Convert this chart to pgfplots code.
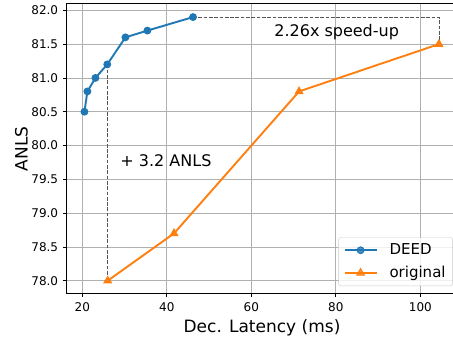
\documentclass[border=0pt]{standalone}
\usepackage{fontspec}
\setmainfont{DejaVu Sans}
\usepackage{pgfplots}
\pgfplotsset{compat=1.18}
\definecolor{mblue}{HTML}{1F77B4}
\definecolor{morange}{HTML}{FF7F0E}
\definecolor{gridgray}{HTML}{B0B0B0}
\definecolor{dashgray}{HTML}{555555}
\definecolor{leggray}{HTML}{CCCCCC}
\begin{document}
\begin{tikzpicture}
\begin{axis}[
  scale only axis, width=390pt, height=290pt,
  xmin=16.3, xmax=108.6, ymin=77.805, ymax=82.095,
  xtick={20,40,60,80,100},
  ytick={78,78.5,79,79.5,80,80.5,81,81.5,82},
  /pgf/number format/assume math mode=true,
  yticklabel style={/pgf/number format/fixed, /pgf/number format/fixed zerofill, /pgf/number format/precision=1},
  tick label style={font=\fontsize{12}{14}\selectfont},
  xticklabel style={anchor=base, inner sep=0pt, yshift=-14.6pt},
  yticklabel style={anchor=east, inner sep=0pt, xshift=-4.9pt},
  tick align=outside, tick pos=left,
  major tick length=3.5pt,
  every tick/.style={black, line width=0.8pt},
  axis line style={black, line width=0.8pt},
  grid=major,
  major grid style={gridgray, line width=0.8pt},
  xlabel={Dec. Latency (ms)},
  ylabel={ANLS},
  xlabel style={font=\fontsize{17}{20}\selectfont, at={(axis description cs:0.5008,-0.134)}, anchor=base, inner sep=0pt},
  ylabel style={font=\fontsize{17}{20}\selectfont, at={(axis description cs:-0.0992,0.5)}, anchor=south, inner sep=0pt},
  legend style={at={(0.99,0.027)}, anchor=south east, draw=leggray, rounded corners=2pt,
    fill=white, fill opacity=0.8, text opacity=1, font=\fontsize{15}{18}\selectfont,
    inner xsep=5pt, inner ysep=4.5pt, row sep=6pt, column sep=10pt},
  legend cell align=left,
  legend image code/.code={\draw[mark repeat=2,mark phase=2,sharp corners] plot coordinates {(0pt,0pt)(16pt,0pt)(32pt,0pt)};},
]
\addplot[dashgray, line width=0.9pt, dash pattern=on 3.7pt off 1.6pt, forget plot]
  coordinates {(46.2,81.9) (104.4,81.9) (104.4,81.5)};
\addplot[dashgray, line width=0.8pt, dash pattern=on 3.7pt off 1.6pt, forget plot]
  coordinates {(26.0,81.2) (26.0,78.0)};
\addplot[mblue, line width=1.9pt, mark=*, mark size=3.4pt, mark options={solid, fill=mblue, draw=mblue, line width=1pt}]
  coordinates {(20.5,80.5) (21.2,80.8) (23.1,81.0) (25.9,81.2) (30.2,81.6) (35.4,81.7) (46.2,81.9)};
\addlegendentry{DEED}
\addplot[morange, line width=1.9pt, mark=triangle*, mark size=4.3pt, mark options={solid, fill=morange, draw=morange, line width=1pt}]
  coordinates {(26.0,78.0) (41.7,78.7) (71.3,80.8) (104.4,81.5)};
\addlegendentry{original}
\node[font=\fontsize{16}{19}\selectfont] at (axis cs:39.8,79.77) {+ 3.2 ANLS};
\node[font=\fontsize{16}{19}\selectfont] at (axis cs:80.2,81.68) {2.26x speed-up};
\end{axis}
\pgfresetboundingbox
\path ([xshift=-66.7pt,yshift=-45.1pt]current axis.south west) rectangle ([xshift=386.3pt,yshift=293.9pt]current axis.south west);
\end{tikzpicture}
\end{document}
